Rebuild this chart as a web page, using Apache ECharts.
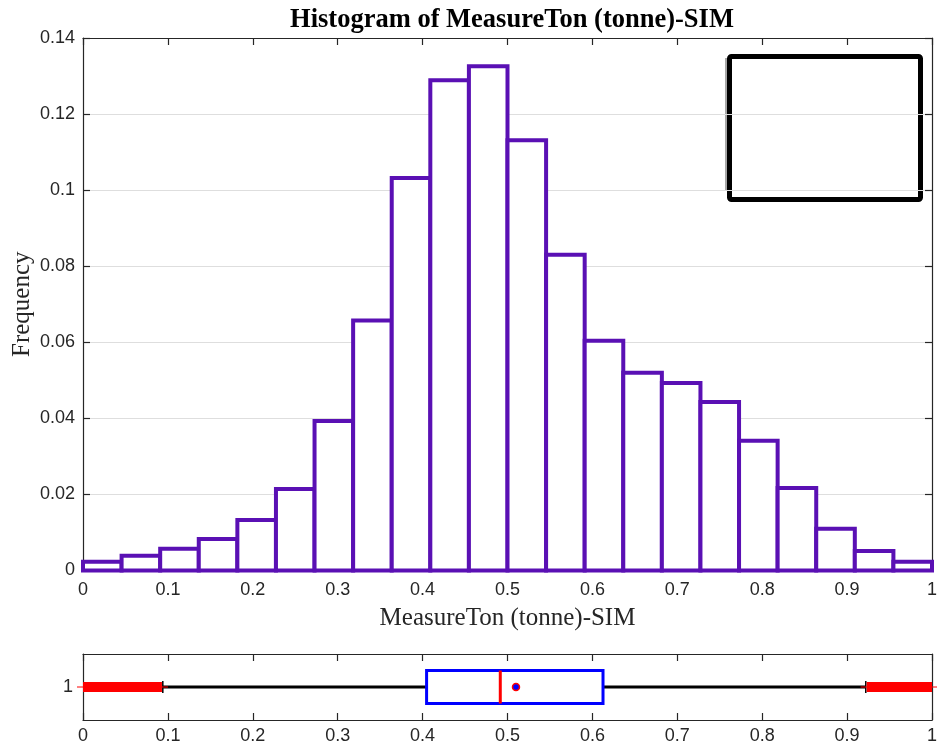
<!DOCTYPE html>
<html>
<head>
<meta charset="utf-8">
<title>Histogram of MeasureTon (tonne)-SIM</title>
<script src="https://cdn.jsdelivr.net/npm/echarts@6/dist/echarts.min.js"></script>
<style>
  html, body { margin: 0; padding: 0; background: #fff; }
  #chart { width: 937px; height: 751px; }
</style>
</head>
<body>
<div id="chart"></div>
<script>
// Histogram: 22 equal-width bins over [0, 1], normalised frequencies
const binCount = 22;
const binRange = [0, 1];
const frequencies = [
  0.0023, 0.0039, 0.0057, 0.0083, 0.0133, 0.0214, 0.0393, 0.0657,
  0.1032, 0.1289, 0.1326, 0.1131, 0.0830, 0.0604, 0.0520, 0.0493,
  0.0443, 0.0341, 0.0217, 0.0110, 0.0051, 0.0023
];

// Box plot summary (lower whisker, Q1, median, Q3, upper whisker, mean)
const boxCategory = ['1'];
const boxStats = [0.094, 0.4047, 0.4915, 0.6125, 0.922, 0.510];
// Extent of the outliers below and above the whiskers
const outliersLow = [0, 0.093];
const outliersHigh = [0.923, 1];

// Axis ticks
const xTickStep = 0.1;
const yTickStep = 0.02;
const yMax = 0.14;

const titleText = 'Histogram of MeasureTon (tonne)-SIM';
const xLabel = 'MeasureTon (tonne)-SIM';
const yLabel = 'Frequency';

const barColor = '#5a10b4';
const axisColor = '#262626';
const tickFont = '"Liberation Sans", Arial, Helvetica, sans-serif';
const serifFont = '"Liberation Serif", "Times New Roman", Times, serif';

const binWidth = (binRange[1] - binRange[0]) / binCount;
const histData = frequencies.map((f, i) => [
  binRange[0] + i * binWidth,
  binRange[0] + (i + 1) * binWidth,
  f
]);

const fmt = v => String(+v.toFixed(2));

const axisLineStyle = { color: axisColor, width: 1.2 };
const tickStyle = { show: true, inside: true, length: 7, lineStyle: { color: axisColor, width: 1.2 } };
const labelStyle = { color: axisColor, fontFamily: tickFont, fontSize: 18 };
const nameStyle = { fontFamily: serifFont, fontSize: 25, color: axisColor };

const chart = echarts.init(document.getElementById('chart'), null, { renderer: 'canvas' });

chart.setOption({
  animation: false,
  backgroundColor: '#ffffff',
  title: {
    text: titleText,
    left: 507,
    top: 2,
    textAlign: 'center',
    textStyle: { fontFamily: serifFont, fontWeight: 'bold', fontSize: 26.5, color: '#000' }
  },
  grid: [
    { left: 83, top: 38, width: 849, height: 532.5, outerBoundsMode: 'none', containLabel: false },
    { left: 83, top: 654, width: 849, height: 66, outerBoundsMode: 'none', containLabel: false }
  ],
  xAxis: [
    {
      gridIndex: 0, type: 'value', position: 'bottom',
      min: 0, max: 1, interval: xTickStep,
      name: xLabel, nameLocation: 'middle', nameGap: 35, nameMoveOverlap: false,
      nameTextStyle: nameStyle,
      axisLine: { show: true, lineStyle: axisLineStyle },
      axisTick: tickStyle,
      axisLabel: Object.assign({ margin: 11, formatter: fmt }, labelStyle),
      splitLine: { show: false }
    },
    {
      gridIndex: 0, type: 'value', position: 'top',
      min: 0, max: 1, interval: xTickStep,
      axisLine: { show: true, onZero: false, lineStyle: axisLineStyle },
      axisTick: tickStyle,
      axisLabel: { show: false },
      splitLine: { show: false }
    },
    {
      gridIndex: 1, type: 'value', position: 'bottom',
      min: 0, max: 1, interval: xTickStep,
      axisLine: { show: true, lineStyle: axisLineStyle },
      axisTick: tickStyle,
      axisLabel: Object.assign({ margin: 7, formatter: fmt }, labelStyle),
      splitLine: { show: false }
    },
    {
      gridIndex: 1, type: 'value', position: 'top',
      min: 0, max: 1, interval: xTickStep,
      axisLine: { show: true, onZero: false, lineStyle: axisLineStyle },
      axisTick: tickStyle,
      axisLabel: { show: false },
      splitLine: { show: false }
    }
  ],
  yAxis: [
    {
      gridIndex: 0, type: 'value', position: 'left',
      min: 0, max: yMax, interval: yTickStep,
      name: yLabel, nameLocation: 'middle', nameGap: 48, nameMoveOverlap: false,
      nameTextStyle: nameStyle,
      axisLine: { show: true, lineStyle: axisLineStyle },
      axisTick: tickStyle,
      axisLabel: Object.assign({ margin: 8, formatter: fmt }, labelStyle),
      splitLine: { show: true, lineStyle: { color: '#dedede', width: 1 } }
    },
    {
      gridIndex: 0, type: 'value', position: 'right',
      min: 0, max: yMax, interval: yTickStep,
      axisLine: { show: true, onZero: false, lineStyle: axisLineStyle },
      axisTick: tickStyle,
      axisLabel: { show: false },
      splitLine: { show: false }
    },
    {
      gridIndex: 1, type: 'category', position: 'left',
      data: boxCategory,
      axisLine: { show: true, lineStyle: axisLineStyle },
      axisTick: { show: false },
      axisLabel: Object.assign({ margin: 10 }, labelStyle),
      splitLine: { show: false }
    },
    {
      gridIndex: 1, type: 'category', position: 'right',
      data: boxCategory,
      axisLine: { show: true, onZero: false, lineStyle: axisLineStyle },
      axisTick: { show: false },
      axisLabel: { show: false },
      splitLine: { show: false }
    }
  ],
  series: [
    {
      name: 'histogram',
      type: 'custom',
      xAxisIndex: 0,
      yAxisIndex: 0,
      encode: { x: [0, 1], y: 2 },
      data: histData,
      renderItem: (params, api) => {
        const top = api.coord([api.value(0), api.value(2)]);
        const bottom = api.coord([api.value(1), 0]);
        return {
          type: 'rect',
          shape: { x: top[0], y: top[1], width: bottom[0] - top[0], height: bottom[1] - top[1] },
          style: { fill: '#ffffff', stroke: barColor, lineWidth: 4 }
        };
      }
    },
    {
      name: 'boxplot',
      type: 'custom',
      xAxisIndex: 2,
      yAxisIndex: 2,
      encode: { x: [0, 1, 2, 3, 4, 5], y: 6 },
      data: [boxStats.concat([0])],
      renderItem: (params, api) => {
        const yc = api.coord([0, api.value(6)])[1];
        const band = api.size([0, 1])[1];
        const half = band * 0.25;
        const X = v => api.coord([v, api.value(6)])[0];
        const wLo = X(api.value(0)), q1 = X(api.value(1)), med = X(api.value(2));
        const q3 = X(api.value(3)), wHi = X(api.value(4)), mean = X(api.value(5));
        const black = { stroke: '#000', lineWidth: 3 };
        const red = '#ff0000';
        const outlierBand = (a, b) => [
          {
            type: 'rect',
            shape: { x: X(a), y: yc - 5, width: X(b) - X(a), height: 10 },
            style: { fill: red }
          },
          {
            type: 'line',
            shape: { x1: X(a) - 6, y1: yc, x2: X(b) + 6, y2: yc },
            style: { stroke: red, lineWidth: 1 }
          }
        ];
        return {
          type: 'group',
          children: [
            { type: 'line', shape: { x1: wLo, y1: yc, x2: q1, y2: yc }, style: black },
            { type: 'line', shape: { x1: q3, y1: yc, x2: wHi, y2: yc }, style: black },
            { type: 'line', shape: { x1: wLo, y1: yc - 6, x2: wLo, y2: yc + 6 }, style: { stroke: '#000', lineWidth: 1.5 } },
            { type: 'line', shape: { x1: wHi, y1: yc - 6, x2: wHi, y2: yc + 6 }, style: { stroke: '#000', lineWidth: 1.5 } },
            ...outlierBand(outliersLow[0], outliersLow[1]),
            ...outlierBand(outliersHigh[0], outliersHigh[1]),
            {
              type: 'rect',
              shape: { x: q1, y: yc - half, width: q3 - q1, height: half * 2 },
              style: { fill: 'transparent', stroke: '#0000ff', lineWidth: 3 }
            },
            { type: 'line', shape: { x1: med, y1: yc - half, x2: med, y2: yc + half }, style: { stroke: red, lineWidth: 3 } },
            { type: 'circle', shape: { cx: mean, cy: yc, r: 3.5 }, style: { fill: '#0000ff', stroke: red, lineWidth: 1.5 } }
          ]
        };
      }
    }
  ],
  graphic: [
    {
      type: 'line',
      shape: { x1: 726, y1: 58, x2: 726, y2: 191 },
      style: { stroke: '#8a8a8a', lineWidth: 1.5 }
    },
    {
      type: 'rect',
      shape: { x: 729.5, y: 56.5, width: 191, height: 143, r: 2 },
      style: { fill: '#ffffff', stroke: '#000000', lineWidth: 5 }
    }
  ]
});
</script>
</body>
</html>
